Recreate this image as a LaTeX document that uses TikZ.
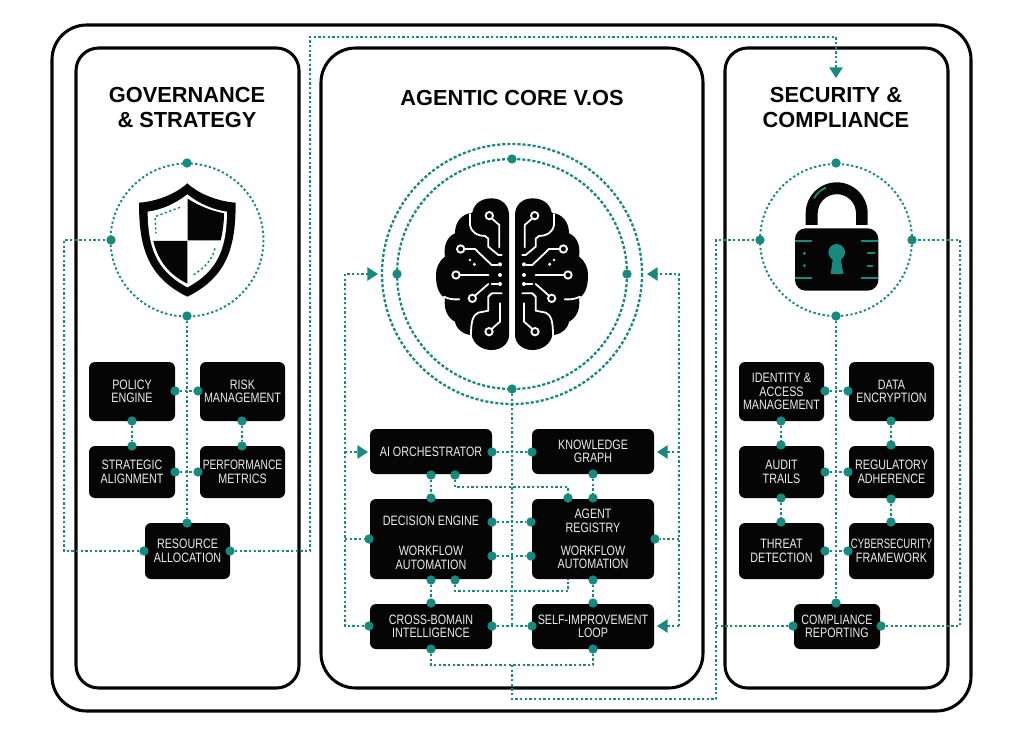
\documentclass[tikz,border=0pt]{standalone}
\usepackage{fontspec}
\setmainfont{Liberation Sans}
\newfontfamily\boxfont[FakeStretch=0.79]{Liberation Sans}
\usetikzlibrary{arrows.meta}
\definecolor{teal1}{HTML}{17897F}
\definecolor{ink}{HTML}{050505}
\pgfdeclarelayer{panels}
\pgfdeclarelayer{conn}
\pgfsetlayers{panels,conn,main}
\tikzset{
 panel/.style={draw=ink,line width=2.3pt,fill=white},
 dotline/.style={draw=teal1,line width=1.45pt,dash pattern=on 1.7pt off 1.8pt},
 ringline/.style={draw=teal1,line width=1.7pt,dash pattern=on 2.3pt off 1.5pt},
 smallring/.style={draw=teal1,line width=1.45pt,dash pattern=on 1.7pt off 1.8pt},
 port/.style={circle,fill=teal1,inner sep=0pt,minimum size=7pt},
 boxn/.style={rectangle,rounded corners=4.5pt,fill=ink,text=white!93!black,inner sep=0pt,align=center,font=\boxfont\fontsize{10.2}{10.1}\selectfont},
 headline/.style={font=\bfseries\fontsize{16.35}{18.8}\selectfont,align=center,text=ink},
 arrowtip/.style={-{Triangle[length=8pt,width=10pt,fill=teal1]}},
 wline/.style={draw=white,line width=1.35pt,line cap=round,line join=round},
 wring/.style={draw=white,line width=1.4pt,fill=ink},
 wdot/.style={fill=white},
}
\newcommand{\bx}[6]{\node[boxn,minimum width={(#4-#2)*0.75pt},minimum height={(#5-#3)*0.75pt}] (#1) at ({(#2+#4)/2},{(#3+#5)/2}) {#6};}
\newcommand{\prt}[3]{\node[port] (#1) at (#2,#3) {};}
\newcommand{\brainhalf}{%
 \fill[ink] (417,225) .. controls (417,195) and (395,175) .. (365,175)
  .. controls (335,175) and (312,190) .. (307,218)
  .. controls (275,222) and (255,245) .. (255,280)
  .. controls (230,290) and (220,320) .. (225,350)
  .. controls (205,365) and (198,385) .. (198,405)
  .. controls (198,440) and (205,460) .. (225,475)
  .. controls (220,510) and (235,535) .. (255,545)
  .. controls (258,565) and (280,585) .. (305,585)
  .. controls (310,612) and (335,630) .. (365,630)
  .. controls (395,630) and (417,610) .. (417,585) -- cycle;
 \draw[wline] (300,222) -- (300,255) .. controls (305,280) and (325,288) .. (345,288) -- (355,296) -- (355,320) -- (385,345) -- (395,345);
 \draw[wline] (366,236) -- (388,255) -- (388,322);
 \draw[wline] (284,327) -- (315,327) -- (365,375);
 \draw[wline] (272,405) -- (355,405);
 \draw[wline] (316,466) -- (355,432);
 \draw[wline] (365,432) -- (382,432);
 \draw[wline] (365,375) -- (382,375);
 \draw[wline] (395,460) -- (365,460) -- (355,470) -- (355,512) -- (325,518) .. controls (310,525) and (303,540) .. (303,585);
 \draw[wline] (366,566) -- (390,545) -- (390,490);
 \draw[wline] (222,470) .. controls (235,477) and (250,479) .. (268,478);
 \draw[wring] (358,227) circle (11);
 \draw[wring] (272,327) circle (11);
 \draw[wring] (258,405) circle (11);
 \draw[wring] (307,475) circle (11);
 \draw[wring] (357,575) circle (11);
 \fill[wdot] (390,373) circle (6) (390,405) circle (6) (390,432) circle (6) (300,360) circle (4) (313,373) circle (5);
}
\begin{document}
\begin{tikzpicture}[x=0.75pt,y=-0.75pt]
\useasboundingbox (0,0) rectangle (1024,738);
\begin{pgfonlayer}{panels}
 \fill[white] (0,0) rectangle (1024,738);
 \draw[panel,rounded corners=26pt] (52,25) rectangle (971,711);
 \draw[panel,rounded corners=17pt] (76,48) rectangle (299,688);
 \draw[panel,rounded corners=26pt] (321,48) rectangle (703,688);
 \draw[panel,rounded corners=17pt] (725,48) rectangle (948,688);
\end{pgfonlayer}
\node[headline] (tgov) at (187,107.5) {GOVERNANCE\\\& STRATEGY};
\node[headline] (tcore) at (512,97.5) {AGENTIC CORE V.OS};
\node[headline] (tsec) at (836,107.5) {SECURITY \&\\COMPLIANCE};
% icons
\begin{scope}[shift={(100,155)},scale=1/3]
 \fill[ink] (262,85) .. controls (300,120) and (360,140) .. (407,143) .. controls (407,270) and (385,365) .. (262,425) .. controls (139,365) and (117,270) .. (117,143) .. controls (164,140) and (224,120) .. (262,85) -- cycle;
 \fill[white] (262,118) .. controls (295,145) and (340,165) .. (381,170) .. controls (380,270) and (360,345) .. (262,397) .. controls (164,345) and (144,270) .. (143,170) .. controls (184,165) and (229,145) .. (262,118) -- cycle;
 \fill[ink] (263,131) .. controls (295,152) and (335,168) .. (372,175) .. controls (372,205) and (368,230) .. (362,256) -- (263,256) -- cycle;
 \fill[ink] (160,258) -- (262,258) -- (262,386) .. controls (210,360) and (175,320) .. (160,258) -- cycle;
 \draw[dotline,line width=1.1pt] (240,157) -- (165,185) -- (168,235);
 \draw[dotline,line width=1.1pt] (345,280) .. controls (335,320) and (310,340) .. (280,360);
\end{scope}
\begin{scope}[shift={(370,140)},scale=1/3]\brainhalf\end{scope}
\begin{scope}[shift={(654,140)},xscale=-1/3,yscale=1/3]\brainhalf\end{scope}
\begin{scope}[shift={(750,155)},scale=1/3]
 \fill[ink] (167,210) -- (167,175) arc[start angle=180,end angle=360,x radius=93,y radius=93] -- (353,210) -- (318,210) -- (318,175) arc[start angle=360,end angle=180,x radius=57.5,y radius=57.5] -- (203,210) -- cycle;
 \fill[ink,rounded corners=8pt] (135,220) rectangle (385,407);
 \draw[teal1,line width=1.4pt] (192,130) .. controls (200,115) and (212,104) .. (228,98);
 \fill[teal1] (260,292) circle (25);
 \fill[teal1] (250,300) -- (270,300) -- (280,357) -- (242,357) -- cycle;
 \draw[teal1,line width=1.4pt] (135,258) -- (187,258) (135,370) -- (187,370) (333,258) -- (385,258) (333,370) -- (385,370) (352,295) -- (375,295) (352,332) -- (370,332);
 \fill[teal1] (163,295) circle (5) (163,332) circle (5);
\end{scope}
% left panel boxes
\bx{pol}{89}{362}{175}{421}{POLICY\\ENGINE}
\bx{rsk}{200}{362}{285}{421}{RISK\\MANAGEMENT}
\bx{str}{89}{446}{175}{498}{STRATEGIC\\ALIGNMENT}
\bx{prf}{200}{446}{285}{498}{\scalebox{0.95}[1]{PERFORMANCE}\\METRICS}
\bx{res}{145}{523}{230}{579}{RESOURCE\\ALLOCATION}
% centre boxes
\bx{orc}{370}{429}{492}{474}{AI ORCHESTRATOR}
\bx{kng}{532}{429}{654}{474}{KNOWLEDGE\\GRAPH}
\bx{dec}{370}{499}{492}{579}{\rule{0pt}{13pt}DECISION ENGINE\\[12.4pt]WORKFLOW\\AUTOMATION}
\bx{agt}{532}{499}{654}{579}{AGENT\\REGISTRY\\[7pt]WORKFLOW\\AUTOMATION}
\bx{crs}{370}{604}{492}{649}{CROSS-BOMAIN\\INTELLIGENCE}
\bx{slf}{532}{604}{654}{649}{SELF-IMPROVEMENT\\LOOP}
% right boxes
\bx{iam}{739}{362}{824}{421}{IDENTITY \&\\ACCESS\\MANAGEMENT}
\bx{dat}{849}{362}{934}{421}{DATA\\ENCRYPTION}
\bx{aud}{739}{446}{824}{498}{AUDIT\\TRAILS}
\bx{reg}{849}{446}{934}{498}{REGULATORY\\ADHERENCE}
\bx{thr}{739}{523}{824}{579}{THREAT\\DETECTION}
\bx{cyb}{849}{523}{934}{579}{\scalebox{0.89}[1]{CYBERSECURITY}\\FRAMEWORK}
\bx{cmp}{794}{604}{880}{649}{COMPLIANCE\\REPORTING}
% ports
\prt{gT}{187}{163}\prt{gB}{187}{316}\prt{gL}{111}{240}
\prt{polR}{175}{391}\prt{rskL}{198}{391}\prt{polB}{132}{421}\prt{strT}{132}{446}
\prt{rskB}{242}{421}\prt{prfT}{242}{446}\prt{strR}{175}{472}\prt{prfL}{198}{472}
\prt{resT}{187}{523}\prt{resL}{144}{551}\prt{resR}{230}{551}
\prt{bT}{512}{159}\prt{bB}{512}{389}\prt{bL}{397}{274}\prt{bR}{627}{274}
\prt{orcR}{492}{452}\prt{kngL}{532}{452}\prt{orcB}{431}{475}\prt{orcC}{455}{475}
\prt{decT}{431}{498}\prt{agtA}{568}{498}\prt{agtT}{593}{498}\prt{kngB}{593}{474}
\prt{decRa}{492}{522}\prt{decRb}{492}{556}\prt{agtLa}{531}{522}\prt{agtLb}{531}{556}
\prt{decB}{431}{580}\prt{decC}{455}{580}\prt{agtB}{593}{580}\prt{slfT}{593}{603}\prt{crsT}{431}{603}
\prt{decL}{369}{539}\prt{agtR}{655}{539}\prt{crsL}{369}{626}\prt{crsR}{492}{626}\prt{slfL}{532}{626}
\prt{crsB}{431}{649}\prt{slfB}{593}{649}
\prt{sT}{836}{163}\prt{sB}{836}{316}\prt{sL}{760}{240}\prt{sR}{912}{240}
\prt{iamR}{825}{391}\prt{datL}{848}{391}\prt{iamB}{781}{421}\prt{audT}{781}{445}
\prt{datB}{891}{421}\prt{regT}{891}{445}\prt{audR}{825}{472}\prt{regL}{848}{472}
\prt{audB}{781}{498}\prt{thrT}{781}{522}\prt{regB}{891}{499}\prt{cybT}{891}{522}
\prt{thrR}{825}{551}\prt{cybL}{848}{551}\prt{cmpT}{836}{603}\prt{cmpL}{793}{626}\prt{cmpR}{881}{626}
% free ends
\coordinate (topA) at (836,78);
\coordinate (arrBL) at (378,274);\coordinate (arrBR) at (647,274);
\coordinate (arrO) at (368,452);\coordinate (arrK) at (657,452);\coordinate (arrS) at (657,626);
\coordinate (tL) at (345,274);\coordinate (tR) at (679,274);
\coordinate (jL) at (345,626);\coordinate (jR) at (679,626);
\coordinate (jO) at (345,452);\coordinate (jD) at (345,539);
\coordinate (jK) at (679,452);\coordinate (jA) at (679,539);
\coordinate (jC) at (512,626);\coordinate (jB) at (512,665);
\coordinate (jF) at (512,699);\coordinate (jG) at (716,699);
\coordinate (jH) at (716,240);\coordinate (jJ) at (716,626);
\coordinate (lL) at (64,551);\coordinate (lR) at (310,551);
\coordinate (lT) at (310,37);\coordinate (lU) at (836,37);
\coordinate (rB) at (960,626);\coordinate (rT) at (960,240);
\coordinate (e1) at (455,487);\coordinate (e2) at (568,487);
\coordinate (f1) at (455,591);\coordinate (f2) at (568,591);\coordinate (f3) at (568,579);
\begin{pgfonlayer}{conn}
 \draw[smallring] (187,240) circle (76.5);
 \draw[smallring] (836,240) circle (76);
 \draw[ringline] (512,274) circle (115);
 \draw[ringline] (512,274) circle (130);
 \draw[dotline] (gB) -- (resT);
 \draw[dotline] (polR) -- (rskL);\draw[dotline] (strR) -- (prfL);
 \draw[dotline] (polB) -- (strT);\draw[dotline] (rskB) -- (prfT);
 \draw[dotline] (resL) -- (lL) -- (lL |- gL) -- (gL);
 \draw[dotline,arrowtip] (resR) -- (lR) -- (lT) -- (lU) -- (topA);
 \draw[dotline] (bB) -- (jC);
 \draw[dotline,arrowtip] (crsL) -- (jL) -- (tL) -- (arrBL);
 \draw[dotline,arrowtip] (jR) -- (tR) -- (arrBR);
 \draw[dotline,arrowtip] (jO) -- (arrO);
 \draw[dotline] (jD) -- (decL);
 \draw[dotline,arrowtip] (jK) -- (arrK);
 \draw[dotline,arrowtip] (jR) -- (arrS);
 \draw[dotline] (jA) -- (agtR);
 \draw[dotline] (orcR) -- (kngL);
 \draw[dotline] (orcB) -- (decT);
 \draw[dotline] (kngB) -- (agtT);
 \draw[dotline] (orcC) -- (e1) -- (e2) -- (agtA);
 \draw[dotline] (decC) -- (f1) -- (f2) -- (f3);
 \draw[dotline] (decRa) -- (agtLa);\draw[dotline] (decRb) -- (agtLb);
 \draw[dotline] (decB) -- (crsT);\draw[dotline] (agtB) -- (slfT);
 \draw[dotline] (crsR) -- (slfL);
 \draw[dotline] (crsB) |- (jB) -| (slfB);
 \draw[dotline] (jB) -- (jF) -- (jG) -- (jH) -- (sL);
 \draw[dotline] (jJ) -- (cmpL);
 \draw[dotline] (cmpR) -- (rB) -- (rT) -- (sR);
 \draw[dotline] (sB) -- (cmpT);
 \draw[dotline] (iamR) -- (datL);\draw[dotline] (audR) -- (regL);\draw[dotline] (thrR) -- (cybL);
 \draw[dotline] (iamB) -- (audT);\draw[dotline] (datB) -- (regT);
 \draw[dotline] (audB) -- (thrT);\draw[dotline] (regB) -- (cybT);
\end{pgfonlayer}
\end{tikzpicture}
\end{document}
